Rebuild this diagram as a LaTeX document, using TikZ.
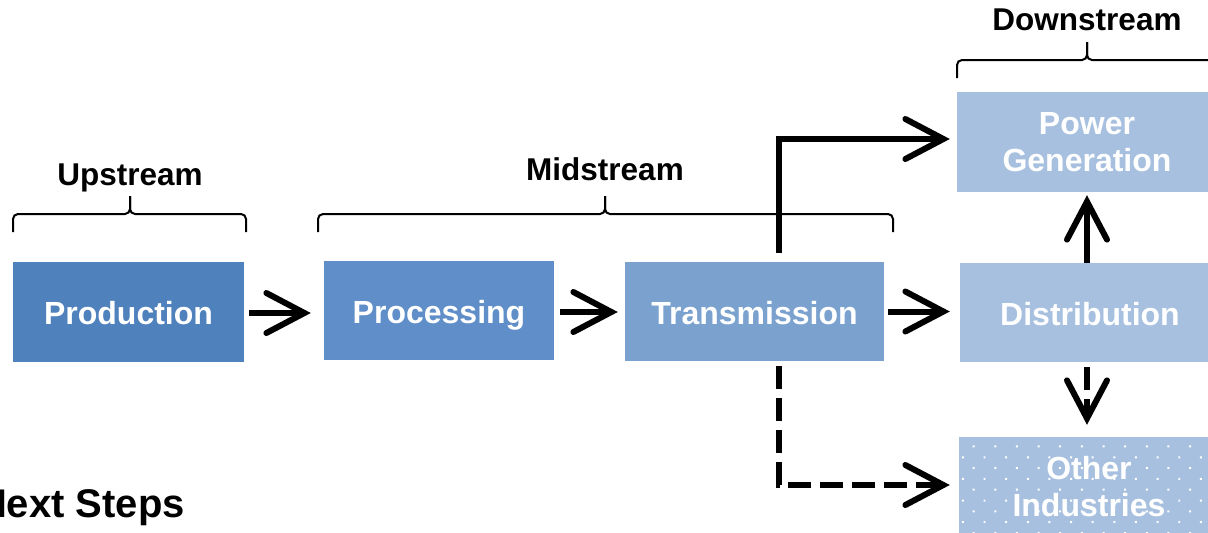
\documentclass[tikz,border=0pt]{standalone}
\usepackage{fontspec}
\setmainfont{Liberation Sans}
\usetikzlibrary{arrows.meta,patterns.meta}
\definecolor{cprod}{HTML}{4F81BD}
\definecolor{cproc}{HTML}{5F8EC8}
\definecolor{ctrans}{HTML}{7BA2CF}
\definecolor{cdown}{HTML}{A7C0DF}
\begin{document}
\begin{tikzpicture}[x=1pt,y=-1pt,
  box/.style={fill=#1, draw=none, text=white, font=\bfseries\fontsize{32}{37}\selectfont, align=center, inner sep=0pt},
  one/.style={text height=25pt, text depth=0pt},
  lbl/.style={font=\bfseries\fontsize{31.5}{36}\selectfont, anchor=base, inner sep=0pt},
  brc/.style={line width=2pt, rounded corners=5pt},
  arr/.style={line width=6pt, -{Straight Barb[length=38pt, width=40pt, line width=6pt, line cap=round]}},
  dsh/.style={arr, dash pattern=on 23pt off 9pt}]
\useasboundingbox (0,0) rectangle (1208,533);
% boxes
\node[box=cprod, one, minimum width=231pt, minimum height=100pt] (prod) at (128.5,312) {Production};
\node[box=cproc, one, minimum width=230pt, minimum height=99pt] (proc) at (439,310.5) {Processing};
\node[box=ctrans, one, minimum width=259pt, minimum height=99pt] (trans) at (754.5,311.5) {Transmission};
\node[box=cdown, minimum width=260pt, minimum height=100pt] (pg) at (1087,142) {Power\\Generation};
\node[box=cdown, one, minimum width=260pt, minimum height=99pt] (dist) at (1090,312.5) {Distribution};
\node[box=cdown, minimum width=260pt, minimum height=100pt, preaction={fill=cdown},
      pattern={Dots[distance=15.3pt, angle=45, radius=1.4pt]}, pattern color=white] (oth) at (1089,487) {Other\\Industries};
% labels
\node[lbl] (up) at (130,185) {Upstream};
\node[lbl] (mid) at (605,180) {Midstream};
\node[lbl] (down) at (1087,30) {Downstream};
\node[font=\bfseries\fontsize{40}{46}\selectfont, anchor=base east, inner sep=0pt] (next) at (185,517) {Next Steps};
% braces
\draw[brc] (13,232) -- (13,214) -- (130,214) -- (130,196);
\draw[brc] (130,196) -- (130,214) -- (246,214) -- (246,232);
\draw[brc] (318,232) -- (318,214) -- (605,214) -- (605,196);
\draw[brc] (605,196) -- (605,214) -- (893,214) -- (893,232);
\draw[brc] (957,78) -- (957,60) -- (1087,60) -- (1087,42);
\draw[brc] (1087,42) -- (1087,60) -- (1220,60) -- (1220,78);
% connectors
\draw[arr, shorten <=5pt, shorten >=13pt] ([yshift=-1pt]prod.east) -- ([yshift=-1pt]prod.east -| proc.west);
\draw[arr, shorten <=6pt, shorten >=7pt] ([yshift=-1.5pt]proc.east) -- ([yshift=-1.5pt]proc.east -| trans.west);
\draw[arr, shorten <=4pt, shorten >=10pt] (trans.east) -- (trans.east -| dist.west);
\draw[arr, shorten >=7pt] ([xshift=24.5pt, yshift=9pt]trans.north) |- ([yshift=3pt]pg.west);
\draw[dsh, shorten >=9pt] ([xshift=24.5pt, yshift=-5pt]trans.south) |- ([yshift=2pt]oth.west);
\draw[arr, shorten >=3pt] (pg.south |- dist.north) -- (pg.south);
\draw[dsh, shorten <=5pt, shorten >=12pt] (pg.south |- dist.south) -- (pg.south |- oth.north);
\end{tikzpicture}
\end{document}
